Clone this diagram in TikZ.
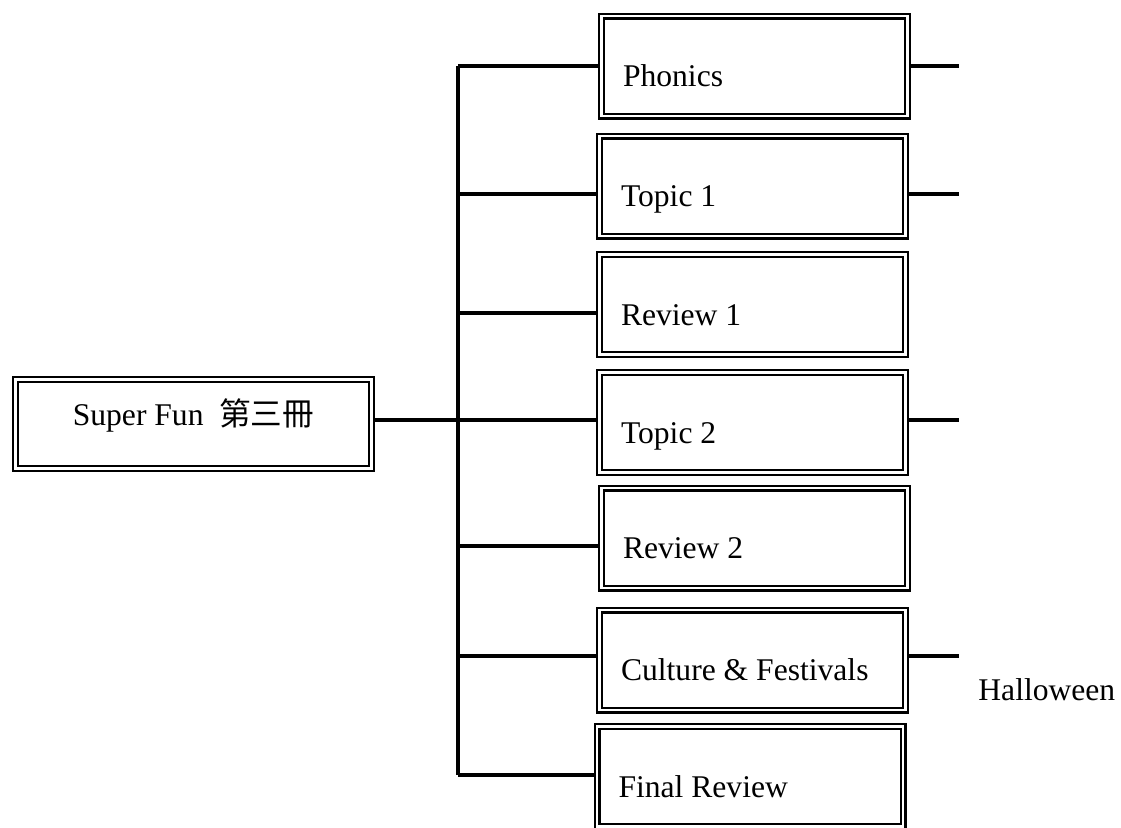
\documentclass[tikz,border=0pt]{standalone}
\usepackage{fontspec}
\setmainfont{Liberation Serif}
\newfontfamily\cjk{Noto Sans CJK TC}

\begin{document}
\begin{tikzpicture}[x=0.5pt, y=-0.5pt, font=\fontsize{15.8pt}{18pt}\selectfont,
  frame/.style={draw, double, line width=1.15pt, double distance=1.2pt, outer sep=1.75pt},
  unit/.style={frame, minimum width=153pt, minimum height=50pt, inner xsep=10.75pt,
    text width=131.5pt, align=flush left, text height=20.5pt, text depth=0pt},
  book/.style={frame, minimum width=178pt, minimum height=44.5pt, text height=6pt, text depth=5pt},
  link/.style={line width=1.6pt}]
\useasboundingbox (0,0) rectangle (1121,827);
\clip (0,0) rectangle (1121,827);

\node[book] (book) at (193.5,424) {Super Fun\ \ {\cjk 第三冊}};

\node[unit] (phonics) at (754.5,66) {Phonics};
\node[unit] (topic1) at (752.5,186) {Topic 1};
\node[unit] (review1) at (752.5,304.5) {Review 1};
\node[unit] (topic2) at (752.5,422.5) {Topic 2};
\node[unit] (review2) at (754.5,538) {Review 2};
\node[unit] (culture) at (752.5,660) {Culture \& Festivals};
\node[unit] (final) at (750,776.5) {Final Review};

\node[anchor=base west, inner sep=0pt] (halloween) at (978,700) {Halloween};

\coordinate (t1) at (458,66);
\coordinate (t2) at (458,194);
\coordinate (t3) at (458,313);
\coordinate (t4) at (458,420);
\coordinate (t5) at (458,546);
\coordinate (t6) at (458,656);
\coordinate (t7) at (458,775);
\coordinate (e1) at (959,66);
\coordinate (e2) at (959,194);
\coordinate (e4) at (959,420);
\coordinate (e6) at (959,656);

\draw[link] (t1) -- (t7);
\draw[link] (book.east |- t4) -- (t4 -| topic2.west);
\draw[link] (t1) -- (t1 -| phonics.west);
\draw[link] (t2) -- (t2 -| topic1.west);
\draw[link] (t3) -- (t3 -| review1.west);
\draw[link] (t5) -- (t5 -| review2.west);
\draw[link] (t6) -- (t6 -| culture.west);
\draw[link] (t7) -- (t7 -| final.west);

\draw[link] (phonics.east |- e1) -- (e1);
\draw[link] (topic1.east |- e2) -- (e2);
\draw[link] (topic2.east |- e4) -- (e4);
\draw[link] (culture.east |- e6) -- (e6);
\end{tikzpicture}
\end{document}
